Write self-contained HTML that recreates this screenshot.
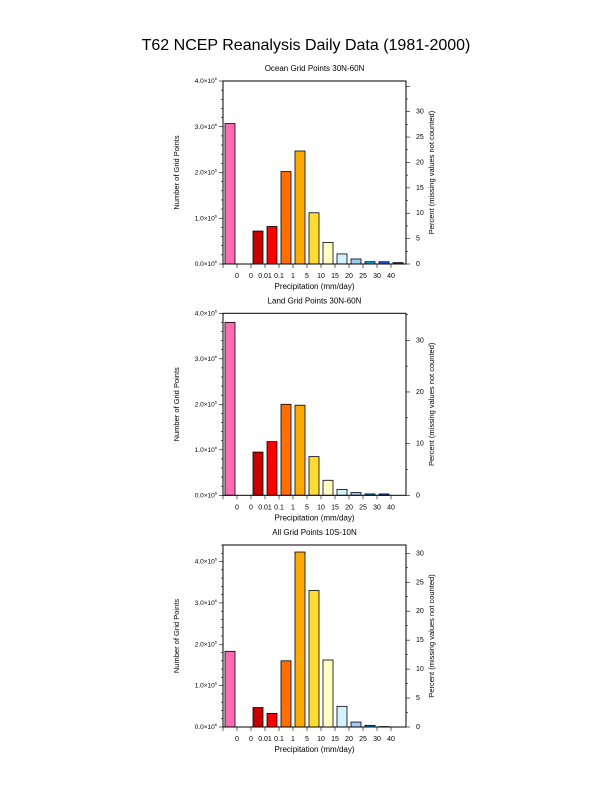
<!DOCTYPE html>
<html><head><meta charset="utf-8"><style>
body{margin:0;background:#fff;}
svg{display:block;font-family:"Liberation Sans",sans-serif;}
</style></head><body>
<svg id="c" width="612" height="792" viewBox="0 0 612 792">
<text x="306" y="50" font-size="16" text-anchor="middle">T62 NCEP Reanalysis Daily Data (1981-2000)</text>
</svg>
<script>
const categories = ["0","0","0.01","0.1","1","5","10","15","20","25","30","40"];
const barColors = ["#ff6ab4","#ffffff","#c80000","#ff0000","#ff6e00","#ffaa00","#ffdc32","#ffffc4","#d2f2ff","#a0c8f8","#00aaf0","#2864f0","#1e3c8c"];
const oceanValues = [3.07,0,0.72,0.82,2.02,2.47,1.12,0.47,0.22,0.11,0.05,0.05,0.03];
const landValues = [3.80,0,0.95,1.18,2.00,1.98,0.85,0.33,0.13,0.06,0.03,0.03,0.0];
const tropicValues = [1.83,0,0.47,0.33,1.60,4.23,3.30,1.62,0.50,0.12,0.04,0.01,0.0];
const leftTicks = [0,1,2,3,4];
const oceanPctTicks = [0,5,10,15,20,25,30];
const landPctTicks = [0,10,20,30];
const tropicPctTicks = [0,5,10,15,20,25,30];

const NS="http://www.w3.org/2000/svg";
const svg=document.getElementById('c');
function mk(tag,attrs,parent){const e=document.createElementNS(NS,tag);for(const k in attrs)e.setAttribute(k,attrs[k]);(parent||svg).appendChild(e);return e;}

function panel(key,title,values,top,bottom,ymax,pctTicks,pctTop,pctTopVal){
  const L=223,R=406,slot=14;
  const g=mk('g',{});
  
  
  const y=v=>bottom-(v/ymax)*(bottom-top);
  const yp=p=>bottom-(p/pctTopVal)*(bottom-pctTop);
  const t=mk('text',{x:(L+R)/2,y:top-10,'font-size':8,'text-anchor':'middle'},g);t.textContent=title;
  
  
  values.forEach((v,i)=>{
    const cx=L+slot*i+7;
    const r=mk('rect',{x:cx-5,y:y(v),width:10,height:Math.max(0,bottom-y(v)),fill:barColors[i],stroke:'#000','stroke-width':0.8},g);
    
    
  });
  mk('rect',{x:L,y:top,width:R-L,height:bottom-top,fill:'none',stroke:'#000','stroke-width':1},g);
  for(let v=0;v<=ymax+1e-9;v+=0.2){
    const major=Math.abs(v-Math.round(v))<1e-6;
    mk('line',{x1:L,x2:L-(major?4:2),y1:y(v),y2:y(v),stroke:'#000','stroke-width':0.6},g);
  }
  leftTicks.forEach(v=>{if(v>ymax)return;
    const tx=mk('text',{x:L-6,y:y(v)+2,'font-size':6.5,'text-anchor':'end'},g);
    tx.innerHTML=v.toFixed(1)+'\u00d710<tspan dy="-3" font-size="4">6</tspan>';
    
    
  });
  const step=pctTicks[1]-pctTicks[0];
  for(let p=0;yp(p)>=top-0.1;p+=step/2){
    const major=Math.abs(p/step-Math.round(p/step))<1e-6;
    mk('line',{x1:R,x2:R+(major?4:2),y1:yp(p),y2:yp(p),stroke:'#000','stroke-width':0.6},g);
  }
  pctTicks.forEach(p=>{
    const tx=mk('text',{x:R+10,y:yp(p)+2,'font-size':7},g);tx.textContent=p;
    
    
  });
  categories.forEach((c,i)=>{
    const x=L+slot*(i+1);
    mk('line',{x1:x,x2:x,y1:bottom,y2:bottom+4,stroke:'#000','stroke-width':0.6},g);
    const tx=mk('text',{x:x,y:bottom+14,'font-size':7,'text-anchor':'middle'},g);tx.textContent=c;
    
    
  });
  mk('line',{x1:L,x2:L,y1:bottom,y2:bottom+4,stroke:'#000','stroke-width':0.6},g);
  const xl=mk('text',{x:(L+R)/2,y:bottom+25,'font-size':8,'text-anchor':'middle'},g);xl.textContent='Precipitation (mm/day)';
  
  
  const ym=(top+bottom)/2;
  const yl=mk('text',{x:179,y:ym,'font-size':7.5,'text-anchor':'middle',transform:`rotate(-90 179 ${ym})`},g);yl.textContent='Number of Grid Points';
  
  
  const rl=mk('text',{x:434,y:ym,'font-size':7.5,'text-anchor':'middle',transform:`rotate(-90 434 ${ym})`},g);rl.textContent='Percent (missing values not counted)';
  
  
}
panel('ocean','Ocean Grid Points 30N-60N',oceanValues,81,264,4,oceanPctTicks,111.7,30);
panel('land','Land Grid Points 30N-60N',landValues,313.3,495.3,4,landPctTicks,340.3,30);
panel('tropic','All Grid Points 10S-10N',tropicValues,545,727,4.4,tropicPctTicks,553.3,30);
</script>
</body></html>
